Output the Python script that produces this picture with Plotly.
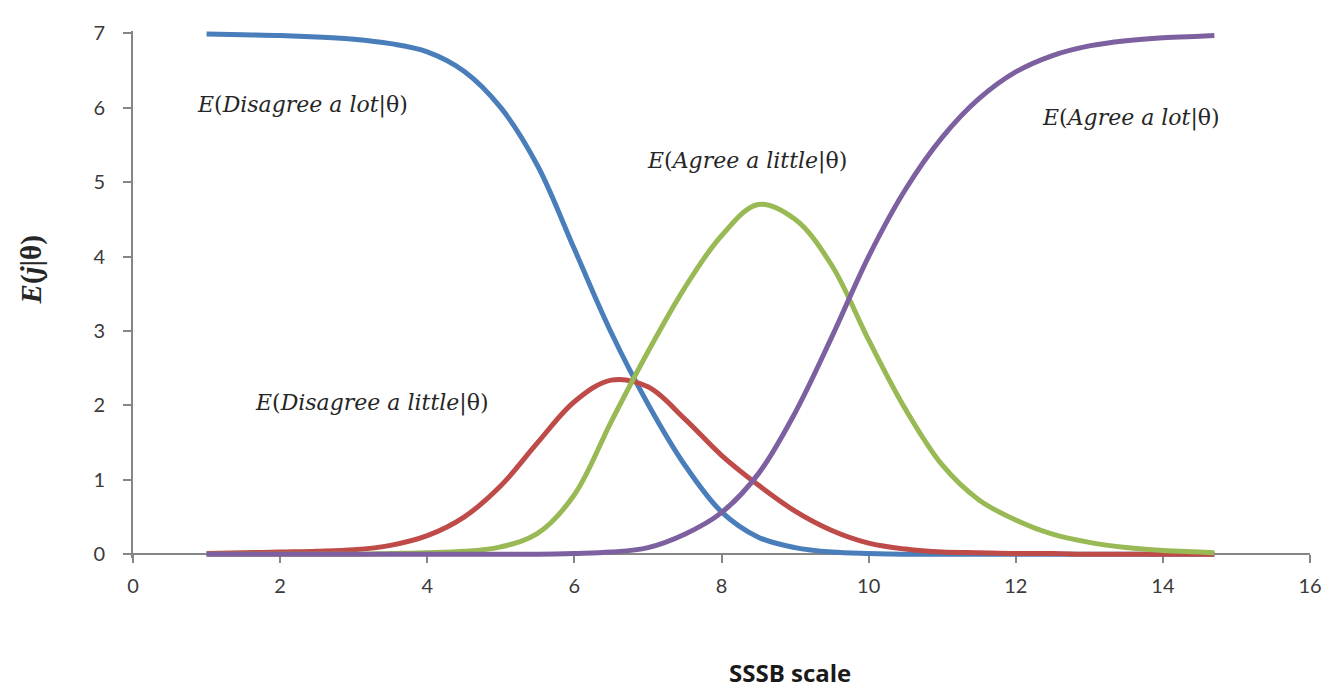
import plotly.graph_objects as go

# --- data ---
theta = [1.0, 1.5, 2.0, 2.5, 3.0, 3.5, 4.0, 4.5, 5.0, 5.5, 6.0, 6.5, 7.0, 7.5, 8.0,
         8.5, 9.0, 9.5, 10.0, 10.5, 11.0, 11.5, 12.0, 12.5, 13.0, 13.5, 14.0, 14.5, 14.7]

disagree_lot = [6.99, 6.98, 6.97, 6.95, 6.92, 6.86, 6.75, 6.49, 6.00, 5.22, 4.10, 2.98, 2.02, 1.20, 0.57,
                0.23, 0.09, 0.03, 0.01, 0.0, 0.0, 0.0, 0.0, 0.0, 0.0, 0.0, 0.0, 0.0, 0.0]
disagree_little = [0.01, 0.02, 0.03, 0.04, 0.06, 0.12, 0.25, 0.50, 0.92, 1.50, 2.05, 2.34, 2.25, 1.82, 1.33,
                   0.93, 0.58, 0.32, 0.15, 0.07, 0.03, 0.02, 0.01, 0.01, 0.0, 0.0, 0.0, 0.0, 0.0]
agree_little = [0.0, 0.0, 0.0, 0.0, 0.0, 0.01, 0.02, 0.04, 0.10, 0.28, 0.80, 1.78, 2.72, 3.58, 4.28,
                4.70, 4.50, 3.88, 2.88, 1.95, 1.20, 0.73, 0.46, 0.27, 0.16, 0.09, 0.05, 0.03, 0.02]
agree_lot = [0.0, 0.0, 0.0, 0.0, 0.0, 0.0, 0.0, 0.0, 0.0, 0.0, 0.01, 0.03, 0.09, 0.27, 0.56,
             1.08, 1.90, 2.92, 4.00, 4.90, 5.60, 6.12, 6.48, 6.70, 6.83, 6.90, 6.94, 6.96, 6.97]

series = [
    ("Disagree a lot", disagree_lot, "#4A7EBB"),
    ("Disagree a little", disagree_little, "#BE4B48"),
    ("Agree a little", agree_little, "#98B954"),
    ("Agree a lot", agree_lot, "#7D60A0"),
]

x_ticks = [0, 2, 4, 6, 8, 10, 12, 14, 16]
y_ticks = [0, 1, 2, 3, 4, 5, 6, 7]

# label text and anchor (data coords)
labels = [
    ("<i>E</i>(<i>Disagree a lot</i>|θ)", 0.84, 6.04),
    ("<i>E</i>(<i>Agree a little</i>|θ)", 6.96, 5.28),
    ("<i>E</i>(<i>Agree a lot</i>|θ)", 12.33, 5.86),
    ("<i>E</i>(<i>Disagree a little</i>|θ)", 1.63, 2.03),
]

# page places the figure 8px in from the top-left corner
W, H = 1330, 682
L, R, T, B = 125, 28, 13, 132
OFF = 8


def px_x(px):
    return (px - OFF - L) / (W - L - R)


def px_y(py):
    return (H - B - (py - OFF)) / (H - T - B)


fig = go.Figure()
for name, vals, col in series:
    fig.add_trace(go.Scatter(x=theta, y=vals, mode="lines", name=name,
                             line=dict(color=col, width=5, shape="spline", smoothing=1.0)))

axis_gray = "#868686"
Y0, Y1 = -0.05, 7.03

fig.update_layout(
    width=W, height=H,
    margin=dict(l=L, r=R, t=T, b=B),
    paper_bgcolor="white", plot_bgcolor="white",
    showlegend=False,
    font=dict(family="Lato", color="#333333"),
    xaxis=dict(range=[0, 16], tickvals=x_ticks, ticks="outside", ticklen=8, tickwidth=2,
               tickcolor=axis_gray, showline=True, linecolor=axis_gray, linewidth=2,
               showgrid=False, zeroline=False, anchor="free",
               position=(0 - Y0) / (Y1 - Y0), layer="below traces",
               tickfont=dict(size=20, family="Lato", color="#3a3a3a"),
               ticklabelstandoff=6),
    yaxis=dict(range=[Y0, Y1], tickvals=y_ticks, ticks="outside", ticklen=8, tickwidth=2,
               tickcolor=axis_gray, showline=True, linecolor=axis_gray, linewidth=2,
               showgrid=False, zeroline=False, layer="below traces",
               tickfont=dict(size=20, family="Lato", color="#3a3a3a"),
               ticklabelstandoff=14),
)

for txt, lx, ly in labels:
    fig.add_annotation(x=lx, y=ly, xref="x", yref="y", text=txt, showarrow=False,
                       xanchor="left", yanchor="middle",
                       font=dict(family="DejaVu Serif", size=22, color="#262626"))

# axis titles
fig.add_annotation(x=px_x(31), y=px_y(265), xref="paper", yref="paper",
                   text="<b><i>E</i>(<i>j</i>|θ)</b>", showarrow=False, textangle=-90,
                   xanchor="center", yanchor="middle",
                   font=dict(family="Liberation Serif", size=29, color="#262626"))
fig.add_annotation(x=px_x(790), y=px_y(675), xref="paper", yref="paper",
                   text="<b>SSSB scale</b>", showarrow=False,
                   xanchor="center", yanchor="middle",
                   font=dict(family="Open Sans", size=24, color="#1a1a1a"))

fig.write_html("out.html")
